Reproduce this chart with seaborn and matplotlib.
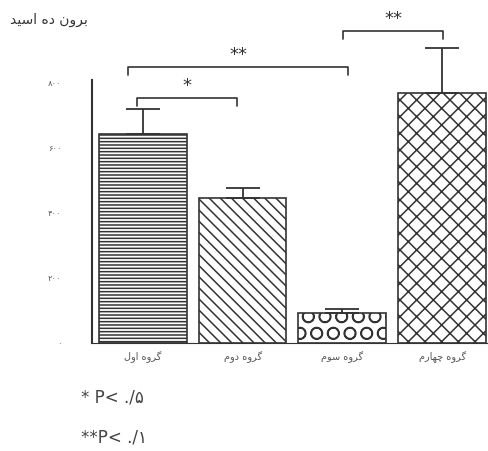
import matplotlib
matplotlib.use("Agg")
import matplotlib.pyplot as plt
import seaborn as sns
import pandas as pd

# Persian text, pre-shaped (presentation forms, visual order) since matplotlib does not shape Arabic script
y_title = "\uFEAA\uFEF4\uFEB3\uFE8D \uFEE9\uFEA9 \uFEE5\uFEED\uFEAE\uFE91"   # برون ده اسید
groups = [
    "\uFEDD\uFEED\uFE8D \uFEE9\uFEED\uFEAE\uFB94",            # گروه اول
    "\uFEE1\uFEED\uFEA9 \uFEE9\uFEED\uFEAE\uFB94",            # گروه دوم
    "\uFEE1\uFEEE\uFEB3 \uFEE9\uFEED\uFEAE\uFB94",            # گروه سوم
    "\uFEE1\uFEAD\uFE8E\uFEEC\uFB7C \uFEE9\uFEED\uFEAE\uFB94",  # گروه چهارم
]
means = [643, 446, 92, 769]
errors = [77, 31, 13, 139]
hatches = ["-----", "\\\\\\", "O", "xx"]
hatch_colors = ["#888888", "#444444", "#444444", "#333333"]

yticks = [0, 200, 400, 600, 800]
ytick_labels = ["\u06F0", "\u06F2\u06F0\u06F0", "\u06F4\u06F0\u06F0", "\u06F6\u06F0\u06F0", "\u06F8\u06F0\u06F0"]

# comparisons: (left x, right x, height, label)
brackets = [(-0.06, 0.94, 754, "*"), (-0.15, 2.06, 849, "**"), (2.01, 3.01, 960, "**")]
notes = ["* P< ./\u06F5", "**P< ./\u06F1"]

sns.set_style("white")
plt.rcParams["font.family"] = ["DejaVu Sans"]
plt.rcParams["hatch.linewidth"] = 1.1

fig = plt.figure(figsize=(4.89, 4.51), dpi=100)
ax = fig.add_axes([0.188, 1 - 343 / 451, 0.812, 343 / 451])

df = pd.DataFrame({"group": groups, "value": means})
sns.barplot(data=df, x="group", y="value", color="white", edgecolor="#333333",
            linewidth=1.2, width=0.88, ax=ax)
for patch, h, hc in zip(ax.patches, hatches, hatch_colors):
    patch.set_hatch(h)
    patch.set_hatch_color(hc) if hasattr(patch, "set_hatch_color") else None
    patch.set_edgecolor("#333333")

ax.errorbar(range(len(means)), means, yerr=[[0] * len(errors), errors],
            fmt="none", ecolor="#333333", elinewidth=1.3, capsize=12, capthick=1.3)

for x0, x1, h, lab in brackets:
    ax.plot([x0, x0, x1, x1], [h - 25, h, h, h - 25], color="#333333", lw=1.2, clip_on=False)
    ax.text((x0 + x1) / 2, h + 8, lab, ha="center", va="bottom", fontsize=13, color="#333333")

ax.set_xlim(-0.51, 3.47)
ax.set_ylim(0, 1055)
ax.set_yticks(yticks)
ax.set_yticklabels(ytick_labels, fontsize=6, color="#555555")
ax.tick_params(axis="y", length=0, pad=22)
ax.tick_params(axis="x", length=0, labelsize=7, labelcolor="#555555", pad=6)
ax.set_xlabel("")
ax.set_ylabel("")
sns.despine(ax=ax, top=True, right=True)
ax.spines["left"].set_bounds(0, 810)
ax.spines["left"].set_color("#333333")
ax.spines["left"].set_linewidth(1.5)
ax.spines["bottom"].set_color("#333333")

fig.text(0.02, 0.955, y_title, fontsize=10, color="#333333", ha="left", va="center")
fig.text(0.165, 0.118, notes[0], fontsize=12, color="#444444", ha="left", va="center")
fig.text(0.165, 0.03, notes[1], fontsize=12, color="#444444", ha="left", va="center")

fig.savefig("out.png", dpi=100)
